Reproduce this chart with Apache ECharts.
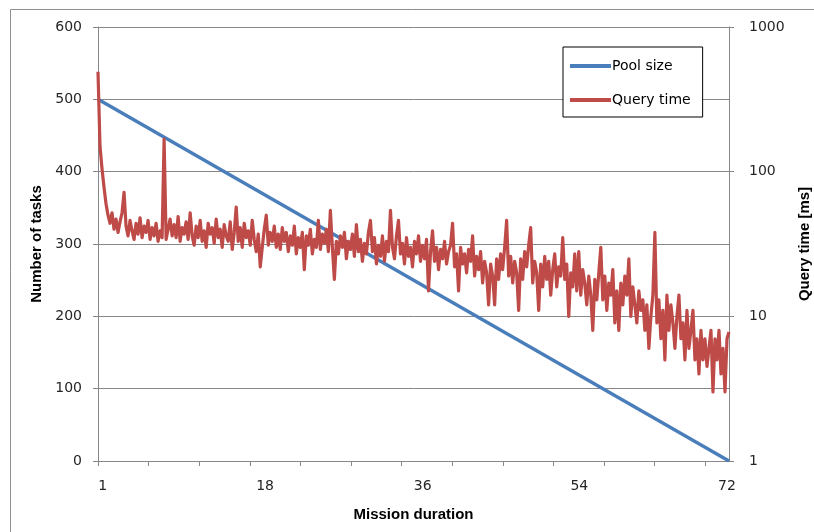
<!DOCTYPE html>
<html>
<head>
<meta charset="utf-8">
<script src="https://cdn.jsdelivr.net/npm/echarts@6/dist/echarts.min.js"></script>
<style>
  html, body { margin: 0; padding: 0; background: #ffffff; }
  #chart { width: 814px; height: 532px; }
</style>
</head>
<body>
<div id="chart"></div>
<script>
// Task pool shrinking over the mission, with the query time per sample (log scale).
const xTickLabels = ['1', '18', '36', '54', '72'];
const leftTicks = [0, 100, 200, 300, 400, 500, 600];
const rightTicks = [1, 10, 100, 1000];

// Pool size at the first and at the last sample.
const poolSize = [500, 0];

// Query time in ms, one value per sample.
const queryTime = [
  490, 150, 105, 78, 60, 50, 44, 52, 40, 47,
  38, 45, 52, 72, 42, 36, 46, 39, 34, 44,
  37, 48, 35, 42, 38, 46, 34, 41, 36, 44,
  33, 39, 35, 168, 34, 40, 47, 36, 43, 35,
  49, 33, 41, 37, 45, 34, 52, 36, 31, 42,
  35, 46, 33, 39, 30, 44, 37, 41, 32, 47,
  35, 40, 30, 43, 36, 33, 45, 29, 38, 57,
  33, 41, 30, 44, 35, 39, 31, 46, 34, 28,
  37, 22, 30, 40, 50, 31, 38, 33, 42, 30,
  37, 29, 41, 33, 38, 28, 36, 31, 42, 27,
  35, 30, 38, 21, 36, 31, 40, 27, 34, 30,
  46, 29, 37, 32, 40, 28, 54, 30, 18, 33,
  27, 36, 30, 38, 25, 33, 29, 37, 26, 43,
  28, 34, 24, 32, 27, 38, 46, 28, 35, 23,
  31, 26, 36, 24, 33, 28, 54, 30, 25, 36,
  46, 27, 32, 23, 35, 26, 30, 22, 33, 27,
  36, 24, 31, 25, 34, 15, 28, 39, 24, 30,
  21, 29, 25, 33, 23, 28, 31, 44, 22, 27,
  15, 30, 23, 27, 20, 29, 24, 36, 19, 26,
  21, 28, 17, 24, 20, 12, 23, 19, 12, 25,
  18, 27, 21, 30, 46, 19, 26, 17, 24, 20,
  11, 25, 18, 28, 22, 31, 41, 17, 24, 20,
  11, 23, 16, 26, 18, 24, 14, 21, 27, 16,
  22, 19, 35, 18, 23, 10, 20, 16, 27, 15,
  28, 14, 21, 17, 12, 19, 14, 8, 18, 13,
  20, 30, 13, 19, 11, 17, 14, 21, 9, 15,
  8, 17, 12, 19, 14, 25, 10, 16, 12, 9,
  15, 11, 13, 8, 12, 6, 10, 14, 38, 9,
  13, 7, 11, 5, 14, 8, 12, 9, 6, 10,
  14, 7, 9, 5, 11, 6, 8, 11, 5, 7,
  4, 8, 5, 7, 4.5, 6, 8, 3, 7, 5,
  8, 4, 6, 3, 7, 7.8
];

const lastIdx = queryTime.length - 1;
// Minor tick spacing along the duration axis and where each duration label sits (sample index).
const tickStep = 25.26;
const tickSpots = [];
for (let t = 0; t <= lastIdx; t += tickStep) tickSpots.push(t);
const labelSpots = [2.35, 83.4, 162.1, 240.3, 314.0];

const axisGray = '#878787';
const textColor = '#262626';
const FONT = 'DejaVu Sans';

const chart = echarts.init(document.getElementById('chart'), null, { renderer: 'canvas' });

chart.setOption({
  animation: false,
  backgroundColor: '#ffffff',
  textStyle: { fontFamily: FONT },
  graphic: [{
    type: 'rect',
    shape: { x: 10.5, y: 9.5, width: 900, height: 700 },
    style: { fill: 'none', stroke: '#8e8e8e', lineWidth: 1 },
    silent: true,
    z: -10
  }],
  grid: { left: 98, right: 85, top: 27, bottom: 71, containLabel: false, outerBoundsMode: 'none' },
  legend: {
    orient: 'vertical',
    left: 563,
    top: 47,
    width: 130,
    backgroundColor: '#ffffff',
    borderColor: '#000000',
    borderWidth: 1,
    padding: [12, 12, 10, 7],
    itemGap: 20,
    itemWidth: 41,
    itemHeight: 4,
    icon: 'rect',
    textStyle: { fontFamily: FONT, fontSize: 14, color: '#000000', padding: [0, 0, 0, -4] },
    data: ['Pool size', 'Query time']
  },
  xAxis: {
    type: 'value',
    min: 0,
    max: lastIdx,
    name: 'Mission duration',
    nameLocation: 'middle',
    nameGap: 46,
    nameTextStyle: { fontFamily: 'Liberation Sans', fontWeight: 'bold', fontSize: 15, color: '#000000' },
    axisLine: { show: true, lineStyle: { color: axisGray, width: 1 } },
    axisTick: { show: true, inside: false, length: 5, customValues: tickSpots, lineStyle: { color: axisGray } },
    axisLabel: {
      customValues: labelSpots,
      margin: 18,
      fontSize: 14,
      color: textColor,
      formatter: function (v) {
        let best = 0;
        for (let k = 1; k < labelSpots.length; k++) {
          if (Math.abs(labelSpots[k] - v) < Math.abs(labelSpots[best] - v)) best = k;
        }
        return xTickLabels[best];
      }
    },
    splitLine: { show: false }
  },
  yAxis: [{
    type: 'value',
    min: leftTicks[0],
    max: leftTicks[leftTicks.length - 1],
    interval: leftTicks[1] - leftTicks[0],
    name: 'Number of tasks',
    nameLocation: 'middle',
    nameGap: 54,
    nameTextStyle: { fontFamily: 'Liberation Sans', fontWeight: 'bold', fontSize: 15, color: '#000000' },
    axisLine: { show: true, lineStyle: { color: axisGray, width: 1 } },
    axisTick: { show: true, inside: false, length: 5, lineStyle: { color: axisGray } },
    axisLabel: { margin: 16, fontSize: 14, color: textColor },
    splitLine: { show: true, lineStyle: { color: axisGray, width: 1 } }
  }, {
    type: 'log',
    logBase: 10,
    min: rightTicks[0],
    max: rightTicks[rightTicks.length - 1],
    position: 'right',
    name: 'Query time [ms]',
    nameLocation: 'middle',
    nameGap: 68,
    nameRotate: 90,
    nameTextStyle: { fontFamily: 'Liberation Sans', fontWeight: 'bold', fontSize: 15, color: '#000000' },
    axisLine: { show: true, lineStyle: { color: axisGray, width: 1 } },
    axisTick: { show: true, inside: false, length: 5, lineStyle: { color: axisGray } },
    axisLabel: { margin: 20, fontSize: 14, color: textColor, formatter: function (v) { return String(Math.round(v)); } },
    splitLine: { show: false }
  }],
  series: [{
    name: 'Pool size',
    type: 'line',
    yAxisIndex: 0,
    symbol: 'none',
    color: '#4A7EBB',
    lineStyle: { color: '#4A7EBB', width: 3.4 },
    data: [[0, poolSize[0]], [lastIdx, poolSize[1]]],
    z: 2
  }, {
    name: 'Query time',
    type: 'line',
    yAxisIndex: 1,
    symbol: 'none',
    color: '#BE4B48',
    lineStyle: { color: '#BE4B48', width: 3.2, join: 'round' },
    data: queryTime.map(function (v, i) { return [i, v]; }),
    z: 3
  }]
});
</script>
</body>
</html>
